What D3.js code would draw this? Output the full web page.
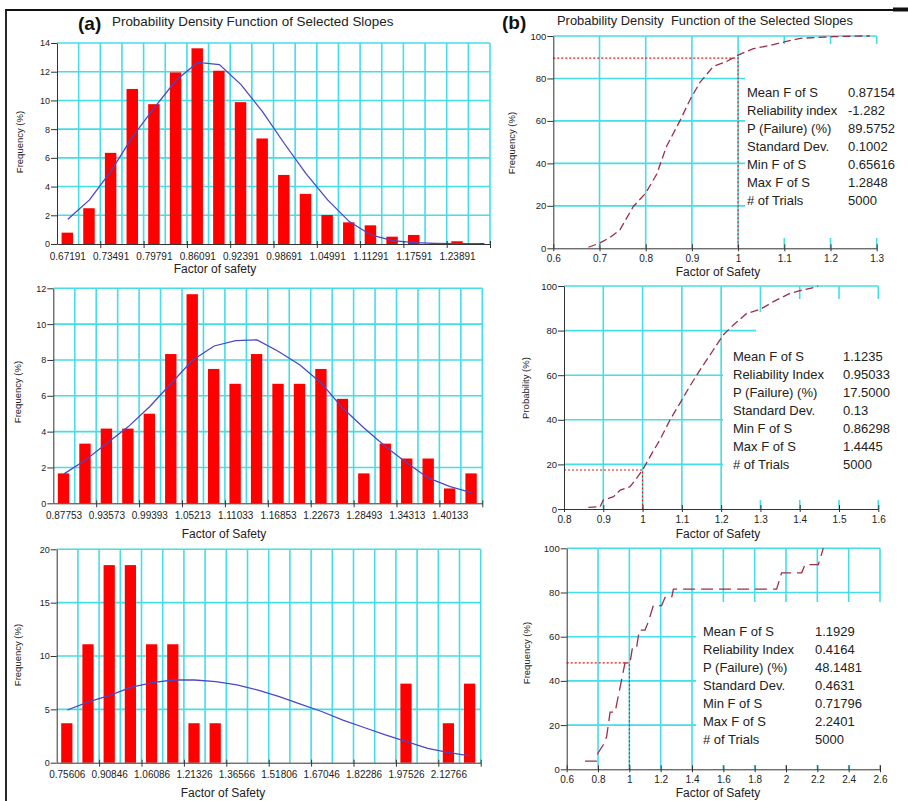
<!DOCTYPE html>
<html>
<head>
<meta charset="utf-8">
<script src="https://cdnjs.cloudflare.com/ajax/libs/d3/7.8.5/d3.min.js"></script>
<style>
  body { margin: 0; background: #fff; }
  svg { display: block; font-family: 'Liberation Sans', Arial, Helvetica, sans-serif; }
</style>
</head>
<body>
<svg id="chart" width="908" height="801"></svg>
<script>
// ---- histograms (left column), 20 bins each, % frequency
const freqA = [0.79, 2.49, 6.35, 10.8, 9.74, 11.95, 13.63, 12.07, 9.88, 7.35, 4.81, 3.49, 2.02, 1.51, 1.3, 0.51, 0.63, 0.07, 0.19, 0.07]
const curveA = [1.72, 3.07, 5.1, 7.5, 9.5, 11.4, 12.65, 12.5, 11.1, 9.2, 7.0, 4.9, 3.07, 1.56, 0.63, 0.23, 0.1, 0.05, 0.03, 0.02]
const labelsA = ['0.67191', '0.73491', '0.79791', '0.86091', '0.92391', '0.98691', '1.04991', '1.11291', '1.17591', '1.23891']

const freqC = [1.67, 3.33, 4.17, 4.17, 5.0, 8.33, 11.67, 7.5, 6.67, 8.33, 6.67, 6.67, 7.5, 5.83, 1.67, 3.33, 2.5, 2.5, 0.83, 1.67]
const curveC = [1.64, 2.42, 3.35, 4.28, 5.4, 6.7, 8.0, 8.78, 9.08, 9.12, 8.47, 7.72, 6.7, 5.3, 4.19, 3.16, 2.23, 1.4, 0.93, 0.6]
const labelsC = ['0.87753', '0.93573', '0.99393', '1.05213', '1.11033', '1.16853', '1.22673', '1.28493', '1.34313', '1.40133']

const freqE = [3.7, 11.1, 18.52, 18.52, 11.1, 11.1, 3.7, 3.7, 0, 0, 0, 0, 0, 0, 0, 0, 7.41, 0, 3.7, 7.41]
const curveE = [4.94, 5.7, 6.3, 7.06, 7.5, 7.75, 7.75, 7.6, 7.3, 6.8, 6.2, 5.5, 4.8, 4.0, 3.3, 2.6, 1.97, 1.34, 0.94, 0.63]
const labelsE = ['0.75606', '0.90846', '1.06086', '1.21326', '1.36566', '1.51806', '1.67046', '1.82286', '1.97526', '2.12766']

// ---- cumulative curves (right column)
const fsB = [0.676, 0.7, 0.723, 0.744, 0.773, 0.8, 0.824, 0.845, 0.874, 0.896, 0.917, 0.946, 0.975, 1.0, 1.033, 1.069, 1.1, 1.134, 1.206, 1.271, 1.285]
const pB = [0.5, 2.4, 5.2, 8.6, 19.6, 26, 35, 48, 60, 70, 78, 85.6, 88, 91, 94, 95.6, 97.2, 98.9, 99.7, 100, 100]
const ticksB = [0.6, 0.7, 0.8, 0.9, 1, 1.1, 1.2, 1.3]

const fsD = [0.862, 0.892, 0.9, 0.926, 0.943, 0.968, 0.985, 1.0, 1.019, 1.044, 1.07, 1.095, 1.12, 1.146, 1.18, 1.205, 1.231, 1.265, 1.299, 1.333, 1.375, 1.4, 1.439, 1.447]
const pD = [0.75, 1.0, 4, 5.5, 8.5, 10, 13.8, 17.5, 23.5, 31, 40, 47.4, 55, 62.3, 71.3, 78, 82.5, 87.7, 89.5, 93, 96.7, 97.9, 99.4, 100]
const ticksD = [0.8, 0.9, 1, 1.1, 1.2, 1.3, 1.4, 1.5, 1.6]

const fsF = [0.717, 0.79, 0.8, 0.834, 0.855, 0.877, 0.909, 0.93, 0.951, 0.972, 1.004, 1.021, 1.047, 1.064, 1.1, 1.121, 1.153, 1.206, 1.228, 1.27, 1.281, 1.94, 1.972, 2.1, 2.121, 2.206, 2.238]
const pF = [3.7, 3.7, 7.4, 11.1, 14.8, 25.9, 25.9, 33.3, 40.7, 48.1, 48.1, 55.6, 55.6, 63, 63, 66.7, 74.1, 74.1, 77.8, 77.8, 81.5, 81.5, 88.9, 88.9, 92.6, 92.6, 100]
const ticksF = [0.6, 0.8, 1, 1.2, 1.4, 1.6, 1.8, 2, 2.2, 2.4, 2.6]
const pctTicks = [0, 20, 40, 60, 80, 100]

// ---- statistics boxes
const statNamesB = ['Mean F of S', 'Reliability index', 'P (Failure) (%)', 'Standard Dev.', 'Min F of S', 'Max F of S', '# of Trials']
const statNames = ['Mean F of S', 'Reliability Index', 'P (Failure) (%)', 'Standard Dev.', 'Min F of S', 'Max F of S', '# of Trials']
const statsB = ['0.87154', '-1.282', '89.5752', '0.1002', '0.65616', '1.2848', '5000']
const statsD = ['1.1235', '0.95033', '17.5000', '0.13', '0.86298', '1.4445', '5000']
const statsF = ['1.1929', '0.4164', '48.1481', '0.4631', '0.71796', '2.2401', '5000']

const svg = d3.select('#chart')
const GRID = '#45dde6'
const AXIS = '#333'
const FONT = "'Liberation Sans', Arial, Helvetica, sans-serif"

function styleAxis (sel, size) {
  sel.attr('font-family', FONT).attr('font-size', size)
  sel.selectAll('path, line').attr('stroke', AXIS)
  sel.selectAll('text').attr('fill', '#222')
}

function yTitle (text, x, y) {
  svg.append('text')
    .attr('transform', `translate(${x},${y}) rotate(-90)`)
    .attr('text-anchor', 'middle')
    .attr('font-size', 9.5)
    .attr('fill', '#222')
    .text(text)
}

function xTitle (text, x, y) {
  svg.append('text')
    .attr('x', x).attr('y', y)
    .attr('text-anchor', 'middle')
    .attr('font-size', 12)
    .attr('fill', '#222')
    .text(text)
}

function drawHist (o) {
  const g = svg.append('g')
  const n = o.freq.length
  const x = d3.scaleLinear().domain([0, n]).range([o.l, o.r])
  const y = d3.scaleLinear().domain([0, o.yMax]).range([o.b, o.t])
  const yTicks = d3.range(0, o.yMax + 0.001, o.yStep)

  // cyan grid, one vertical per bin edge
  g.append('g').selectAll('line').data(d3.range(1, n + 1)).join('line')
    .attr('x1', d => x(d)).attr('x2', d => x(d))
    .attr('y1', y(0)).attr('y2', y(o.yMax))
    .attr('stroke', GRID).attr('stroke-width', 1.6)
  g.append('g').selectAll('line').data(yTicks.slice(1)).join('line')
    .attr('x1', x(0)).attr('x2', x(n))
    .attr('y1', d => y(d)).attr('y2', d => y(d))
    .attr('stroke', GRID).attr('stroke-width', 1.6)

  const bw = (x(1) - x(0)) * 0.53
  g.append('g').selectAll('rect').data(o.freq).join('rect')
    .attr('x', (d, i) => x(i + 0.5) - bw / 2 - 0.5)
    .attr('y', d => y(d))
    .attr('width', bw)
    .attr('height', d => y(0) - y(d))
    .attr('fill', '#ff0000')

  // fitted curve
  const line = d3.line().x((d, i) => x(i + 0.5)).y(d => y(d))
  g.append('path').datum(o.curve)
    .attr('d', line)
    .attr('fill', 'none')
    .attr('stroke', '#4848c8')
    .attr('stroke-width', 1.3)

  const ya = g.append('g').attr('transform', `translate(${x(0)},0)`)
    .call(d3.axisLeft(y).tickValues(yTicks).tickSize(6).tickSizeOuter(0).tickPadding(1))
  styleAxis(ya, 9)

  const xa = g.append('g').attr('transform', `translate(0,${y(0)})`)
    .call(d3.axisBottom(x).tickValues(d3.range(2, n + 1, 2)).tickSize(4).tickSizeOuter(0).tickFormat(''))
  xa.selectAll('.tick line').attr('y1', -3)
  styleAxis(xa, 10)

  g.append('g').selectAll('text').data(o.labels).join('text')
    .attr('x', (d, i) => x(i * 2 + 0.5))
    .attr('y', o.tickY)
    .attr('text-anchor', 'middle')
    .attr('font-size', 10)
    .attr('fill', '#222')
    .text(d => d)
}

function drawCdf (o) {
  const g = svg.append('g')
  const x = d3.scaleLinear().domain([o.ticks[0], o.ticks[o.ticks.length - 1]]).range([o.l, o.r])
  const y = d3.scaleLinear().domain([0, 100]).range([o.b, o.t])

  g.append('g').selectAll('line').data(o.ticks.slice(1)).join('line')
    .attr('x1', d => x(d)).attr('x2', d => x(d))
    .attr('y1', y(0)).attr('y2', y(100))
    .attr('stroke', GRID).attr('stroke-width', 1.6)
  g.append('g').selectAll('line').data(pctTicks.slice(1)).join('line')
    .attr('x1', x.range()[0]).attr('x2', x.range()[1])
    .attr('y1', d => y(d)).attr('y2', d => y(d))
    .attr('stroke', GRID).attr('stroke-width', 1.6)

  // white panel behind the statistics
  g.append('g').selectAll('rect').data(o.masks).join('rect')
    .attr('x', d => d[0]).attr('y', d => d[1])
    .attr('width', d => d[2]).attr('height', d => d[3])
    .attr('fill', '#fff')

  // failure probability guide (FS = 1)
  g.append('path')
    .attr('d', `M${x.range()[0]},${y(o.pf)}H${x(1)}V${y(0)}`)
    .attr('fill', 'none')
    .attr('stroke', '#e01818')
    .attr('stroke-width', 1.1)
    .attr('stroke-dasharray', '2,2')

  const pts = o.fs.map((f, i) => [f, o.p[i]])
  g.append('path').datum(pts)
    .attr('d', d3.line().x(d => x(d[0])).y(d => y(d[1])))
    .attr('fill', 'none')
    .attr('stroke', '#9c2f48')
    .attr('stroke-width', 1.3)
    .attr('stroke-dasharray', o.dash)

  const ya = g.append('g').attr('transform', `translate(${x.range()[0]},0)`)
    .call(d3.axisLeft(y).tickValues(pctTicks).tickSize(6).tickSizeOuter(0).tickPadding(1))
  styleAxis(ya, 9.5)

  const xa = g.append('g').attr('transform', `translate(0,${y(0)})`)
    .call(d3.axisBottom(x).tickValues(o.ticks).tickSize(3).tickSizeOuter(0).tickPadding(4).tickFormat(d => String(d)))
  xa.selectAll('.tick line').attr('y1', -4)
  styleAxis(xa, 10)

  const st = g.append('g').attr('font-size', 13).attr('fill', '#222')
  st.selectAll('text.nm').data(o.names).join('text')
    .attr('class', 'nm')
    .attr('x', o.sx).attr('y', (d, i) => o.sy + i * 18)
    .text(d => d)
  st.selectAll('text.vl').data(o.stats).join('text')
    .attr('class', 'vl')
    .attr('x', o.vx).attr('y', (d, i) => o.sy + i * 18)
    .text(d => d)
}

// frame
svg.append('path').attr('d', 'M6,801V10H908').attr('fill', 'none').attr('stroke', '#111').attr('stroke-width', 1.8)
svg.append('rect').attr('x', 893).attr('y', 7.5).attr('width', 15).attr('height', 4).attr('fill', '#111')

// titles
svg.append('text').attr('x', 78).attr('y', 30).attr('font-size', 19).attr('font-weight', 'bold').attr('fill', '#111').text('(a)')
svg.append('text').attr('x', 112).attr('y', 26).attr('font-size', 13.4).attr('fill', '#222').text('Probability Density Function of Selected Slopes')
svg.append('text').attr('x', 502).attr('y', 29).attr('font-size', 19).attr('font-weight', 'bold').attr('fill', '#111').text('(b)')
svg.append('text').attr('x', 557).attr('y', 25).attr('font-size', 12.9).attr('fill', '#222')
  .style('white-space', 'pre').text('Probability Density  Function of the Selected Slopes')

// left column
drawHist({ freq: freqA, curve: curveA, labels: labelsA, yMax: 14, yStep: 2, l: 57, r: 490, t: 43, b: 244, tickY: 260 })
yTitle('Frequency (%)', 23, 142)
xTitle('Factor of safety', 215, 273)

drawHist({ freq: freqC, curve: curveC, labels: labelsC, yMax: 12, yStep: 2, l: 53.3, r: 482.3, t: 288.3, b: 503.3, tickY: 519 })
yTitle('Frequency (%)', 21, 392)
xTitle('Factor of Safety', 224, 538)

drawHist({ freq: freqE, curve: curveE, labels: labelsE, yMax: 20, yStep: 5, l: 56.7, r: 480.7, t: 549.3, b: 762.7, tickY: 778 })
yTitle('Frequency (%)', 21, 655)
xTitle('Factor of Safety', 223, 797)

// right column
drawCdf({
  fs: fsB, p: pB, ticks: ticksB, pf: 89.5752, dash: '8,4',
  l: 553.3, r: 876.7, t: 36, b: 248.3,
  masks: [[745, 44, 150, 194]],
  names: statNamesB, stats: statsB, sx: 747, vx: 848, sy: 97
})
yTitle('Frequency (%)', 515, 143)
xTitle('Factor of Safety', 718, 276)

drawCdf({
  fs: fsD, p: pD, ticks: ticksD, pf: 17.5, dash: '8,4',
  l: 564, r: 878.3, t: 286, b: 509,
  masks: [[723, 333, 172, 167], [756, 312, 140, 22], [790, 299, 106, 14]],
  names: statNames, stats: statsD, sx: 733, vx: 843, sy: 361
})
yTitle('Probability (%)', 529, 388)
xTitle('Factor of Safety', 718, 538)

drawCdf({
  fs: fsF, p: pF, ticks: ticksF, pf: 48.1481, dash: '12,6',
  l: 566.7, r: 880, t: 548.3, b: 769.3,
  masks: [[696, 602, 200, 163]],
  names: statNames, stats: statsF, sx: 703, vx: 815, sy: 636
})
yTitle('Frequency (%)', 530, 653)
xTitle('Factor of Safety', 718, 797)
</script>
</body>
</html>
